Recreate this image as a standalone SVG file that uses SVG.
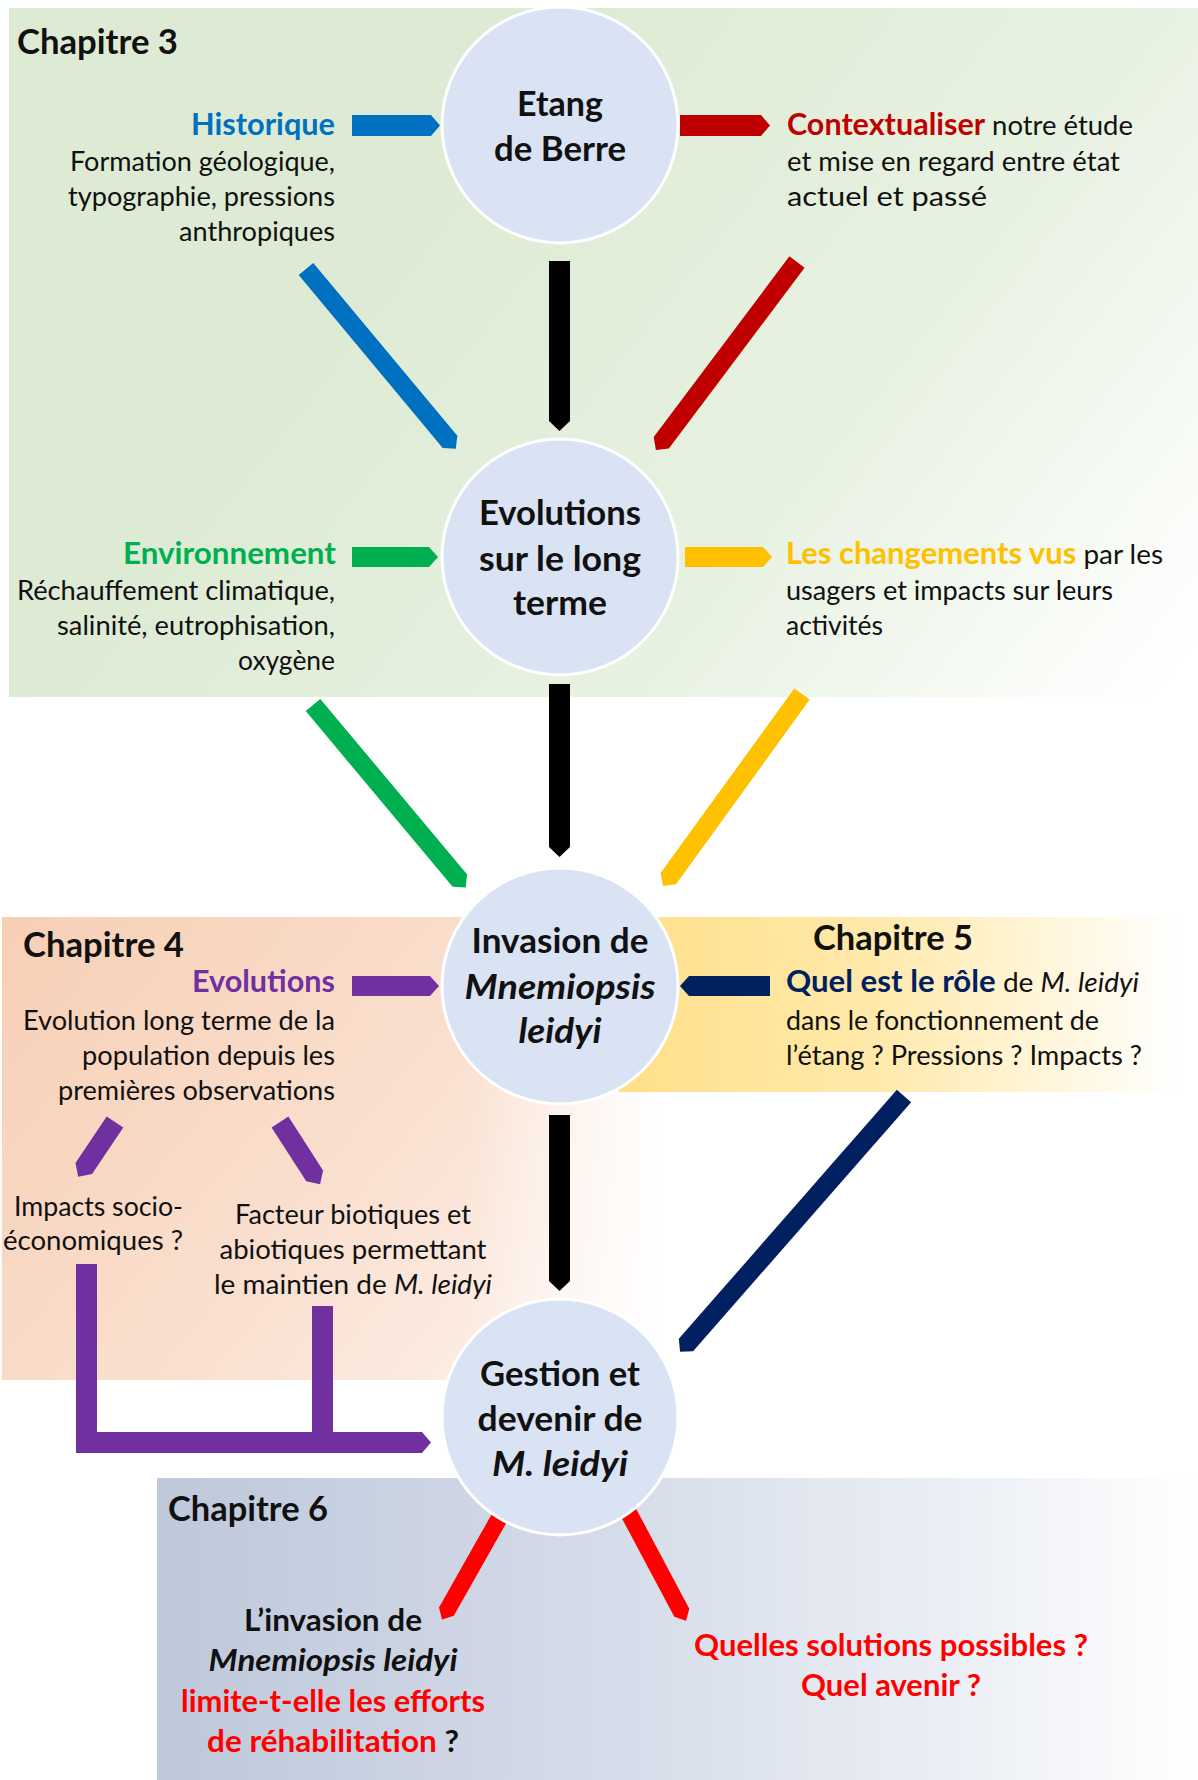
<svg xmlns="http://www.w3.org/2000/svg" width="1198" height="1780" viewBox="0 0 1198 1780">
<style>
text{font-family:Lato,"Open Sans","Liberation Sans",sans-serif;fill:#111;}
.r{font-size:27px;}
.b{font-size:30px;font-weight:700;}
.h{font-size:35px;font-weight:700;}
.c{font-size:34px;font-weight:700;text-anchor:middle;}
.s6{font-size:30px;font-weight:700;text-anchor:middle;}
.e{text-anchor:end;}
.m{text-anchor:middle;}
.i{font-style:italic;}
.node{fill:#DAE3F3;stroke:#FFFFFF;stroke-width:3;}
</style>
<defs>
<linearGradient id="gGreen" gradientUnits="userSpaceOnUse" x1="450" y1="150" x2="1150" y2="700">
<stop offset="0" stop-color="#DDEBD4"/><stop offset="0.55" stop-color="#E8F2E2"/><stop offset="1" stop-color="#FFFFFF"/>
</linearGradient>
<linearGradient id="gPeach" gradientUnits="userSpaceOnUse" x1="2" y1="917" x2="560" y2="1380">
<stop offset="0" stop-color="#F7CFB5"/><stop offset="0.6" stop-color="#FAE0D0"/><stop offset="1" stop-color="#FDF1EA"/>
</linearGradient>
<linearGradient id="gPeachFade" gradientUnits="userSpaceOnUse" x1="470" y1="0" x2="660" y2="0">
<stop offset="0" stop-color="#FFFFFF" stop-opacity="0"/><stop offset="1" stop-color="#FFFFFF" stop-opacity="1"/>
</linearGradient>
<linearGradient id="gYellow" gradientUnits="userSpaceOnUse" x1="619" y1="0" x2="1181" y2="0">
<stop offset="0" stop-color="#FFE08A"/><stop offset="0.45" stop-color="#FFE9AA"/><stop offset="1" stop-color="#FFFFFF"/>
</linearGradient>
<linearGradient id="gBlue" gradientUnits="userSpaceOnUse" x1="157" y1="0" x2="1198" y2="0">
<stop offset="0" stop-color="#BEC8DA"/><stop offset="0.45" stop-color="#D6DDEA"/><stop offset="0.8" stop-color="#EEF1F6"/><stop offset="1" stop-color="#FFFFFF"/>
</linearGradient>
</defs>
<rect width="1198" height="1780" fill="#FFFFFF"/>
<g id="backgrounds">
<rect x="9" y="8" width="1189" height="689" fill="url(#gGreen)"/>
<rect x="2" y="917" width="658" height="463" fill="url(#gPeach)"/>
<rect x="2" y="917" width="658" height="463" fill="url(#gPeachFade)"/>
<rect x="619" y="917" width="562" height="175" fill="url(#gYellow)"/>
<rect x="157" y="1478" width="1041" height="302" fill="url(#gBlue)"/>
</g>
<g id="connectors">
<path fill="#000" d="M549,261 H570 V421 L559.5,431 L549,421 Z"/>
<path fill="#000" d="M549,684 H570 V847 L559.5,857 L549,847 Z"/>
<path fill="#000" d="M549,1115 H570 V1281 L559.5,1291 L549,1281 Z"/>
<path fill="#0070C0" d="M352,115 H431 L440,125.5 L431,136 H352 Z"/>
<path fill="#C00000" d="M680,115 H761 L770,125.5 L761,136 H680 Z"/>
<path fill="#00B050" d="M352,547 H429 L438,557 L429,567 H352 Z"/>
<path fill="#FFC000" d="M685,547 H763 L772,557 L763,567 H685 Z"/>
<path fill="#7030A0" d="M352,976 H430 L439,986 L430,996 H352 Z"/>
<path fill="#002060" d="M770,976 H689 L680,986 L689,996 H770 Z"/>
<path fill="#0070C0" transform="translate(306,269) rotate(50.2)" d="M0,-9.5 H225 L234,0 L225,9.5 H0 Z"/>
<path fill="#C00000" transform="translate(797,262) rotate(126.9)" d="M0,-9.5 H226 L235,0 L226,9.5 H0 Z"/>
<path fill="#00B050" transform="translate(313,705) rotate(50.1)" d="M0,-9.5 H229 L238,0 L229,9.5 H0 Z"/>
<path fill="#FFC000" transform="translate(802,694) rotate(125.9)" d="M0,-9.5 H228 L237,0 L228,9.5 H0 Z"/>
<path fill="#002060" transform="translate(904,1096) rotate(131.2)" d="M0,-9.5 H331 L340,0 L331,9.5 H0 Z"/>
<path fill="#7030A0" transform="translate(115,1122) rotate(123.9)" d="M0,-10 H56 L66,0 L56,10 H0 Z"/>
<path fill="#7030A0" transform="translate(280,1122) rotate(57.2)" d="M0,-10 H64 L74,0 L64,10 H0 Z"/>
<path fill="#7030A0" d="M76,1264 H97 V1432 H422 L431,1442.5 L422,1453 H76 Z"/>
<rect fill="#7030A0" x="312" y="1306" width="21" height="127"/>
<path fill="#FF0000" transform="translate(505,1508) rotate(119.5)" d="M0,-8.5 H119 L128,0 L119,8.5 H0 Z"/>
<path fill="#FF0000" transform="translate(625,1506) rotate(62)" d="M0,-8.5 H121 L130,0 L121,8.5 H0 Z"/>
</g>
<g id="node-etang">
<circle class="node" cx="560" cy="125" r="118"/>
<text class="c" x="560" y="116" textLength="86" lengthAdjust="spacingAndGlyphs">Etang</text>
<text class="c" x="560" y="161" textLength="132" lengthAdjust="spacingAndGlyphs">de Berre</text>
</g>
<g id="node-evolutions">
<circle class="node" cx="560" cy="557" r="118"/>
<text class="c" x="560" y="525" textLength="162" lengthAdjust="spacingAndGlyphs">Evolutions</text>
<text class="c" x="560" y="571" textLength="162" lengthAdjust="spacingAndGlyphs">sur le long</text>
<text class="c" x="560" y="615" textLength="94" lengthAdjust="spacingAndGlyphs">terme</text>
</g>
<g id="node-invasion">
<circle class="node" cx="560" cy="986" r="118"/>
<text class="c" x="560" y="953" textLength="177" lengthAdjust="spacingAndGlyphs">Invasion de</text>
<text class="c i" x="560" y="999" textLength="191" lengthAdjust="spacingAndGlyphs">Mnemiopsis</text>
<text class="c i" x="560" y="1043" textLength="83" lengthAdjust="spacingAndGlyphs">leidyi</text>
</g>
<g id="node-gestion">
<circle class="node" cx="560" cy="1417" r="118"/>
<text class="c" x="560" y="1386" textLength="160" lengthAdjust="spacingAndGlyphs">Gestion et</text>
<text class="c" x="560" y="1431" textLength="165" lengthAdjust="spacingAndGlyphs">devenir de</text>
<text class="c i" x="560" y="1476" textLength="136" lengthAdjust="spacingAndGlyphs">M. leidyi</text>
</g>
<g id="chapitre3">
<text class="h" x="17" y="54" textLength="161" lengthAdjust="spacingAndGlyphs">Chapitre 3</text>
</g>
<g id="historique">
<text class="b e" x="335" y="135" style="fill:#0070C0" textLength="144" lengthAdjust="spacingAndGlyphs">Historique</text>
<text class="r e" x="335" y="171" textLength="265" lengthAdjust="spacingAndGlyphs">Formation géologique,</text>
<text class="r e" x="335" y="206" textLength="267" lengthAdjust="spacingAndGlyphs">typographie, pressions</text>
<text class="r e" x="335" y="241" textLength="156" lengthAdjust="spacingAndGlyphs">anthropiques</text>
</g>
<g id="contextualiser">
<text class="r" x="787" y="135" textLength="346" lengthAdjust="spacingAndGlyphs"><tspan style="font-size:30px;font-weight:700;fill:#C00000">Contextualiser</tspan> notre étude</text>
<text class="r" x="787" y="171" textLength="333" lengthAdjust="spacingAndGlyphs">et mise en regard entre état</text>
<text class="r" x="787" y="206" textLength="200" lengthAdjust="spacingAndGlyphs">actuel et passé</text>
</g>
<g id="environnement">
<text class="b e" x="336" y="564" style="fill:#00B050" textLength="213" lengthAdjust="spacingAndGlyphs">Environnement</text>
<text class="r e" x="335" y="600" textLength="318" lengthAdjust="spacingAndGlyphs">Réchauffement climatique,</text>
<text class="r e" x="335" y="635" textLength="278" lengthAdjust="spacingAndGlyphs">salinité, eutrophisation,</text>
<text class="r e" x="335" y="670" textLength="97" lengthAdjust="spacingAndGlyphs">oxygène</text>
</g>
<g id="changements">
<text class="r" x="786" y="564" textLength="377" lengthAdjust="spacingAndGlyphs"><tspan style="font-size:30px;font-weight:700;fill:#FFC000">Les changements vus</tspan> par les</text>
<text class="r" x="786" y="600" textLength="327" lengthAdjust="spacingAndGlyphs">usagers et impacts sur leurs</text>
<text class="r" x="786" y="635" textLength="97" lengthAdjust="spacingAndGlyphs">activités</text>
</g>
<g id="chapitre4">
<text class="h" x="23" y="957" textLength="161" lengthAdjust="spacingAndGlyphs">Chapitre 4</text>
</g>
<g id="evolutions-pop">
<text class="b e" x="335" y="992" style="fill:#7030A0" textLength="143" lengthAdjust="spacingAndGlyphs">Evolutions</text>
<text class="r e" x="335" y="1030" textLength="312" lengthAdjust="spacingAndGlyphs">Evolution long terme de la</text>
<text class="r e" x="335" y="1065" textLength="253" lengthAdjust="spacingAndGlyphs">population depuis les</text>
<text class="r e" x="335" y="1100" textLength="277" lengthAdjust="spacingAndGlyphs">premières observations</text>
</g>
<g id="impacts-socio">
<text class="r e" x="183" y="1216" textLength="169" lengthAdjust="spacingAndGlyphs">Impacts socio-</text>
<text class="r e" x="183" y="1250" textLength="180" lengthAdjust="spacingAndGlyphs">économiques ?</text>
</g>
<g id="facteurs">
<text class="r m" x="353" y="1224" textLength="236" lengthAdjust="spacingAndGlyphs">Facteur biotiques et</text>
<text class="r m" x="353" y="1259" textLength="267" lengthAdjust="spacingAndGlyphs">abiotiques permettant</text>
<text class="r m" x="353" y="1294" textLength="278" lengthAdjust="spacingAndGlyphs">le maintien de <tspan class="i">M. leidyi</tspan></text>
</g>
<g id="chapitre5">
<text class="h" x="813" y="950" textLength="160" lengthAdjust="spacingAndGlyphs">Chapitre 5</text>
</g>
<g id="role">
<text class="r" x="786" y="992" textLength="353" lengthAdjust="spacingAndGlyphs"><tspan style="font-size:30px;font-weight:700;fill:#002060">Quel est le rôle</tspan> de <tspan class="i">M. leidyi</tspan></text>
<text class="r" x="786" y="1030" textLength="313" lengthAdjust="spacingAndGlyphs">dans le fonctionnement de</text>
<text class="r" x="786" y="1065" textLength="356" lengthAdjust="spacingAndGlyphs">l’étang ? Pressions ? Impacts ?</text>
</g>
<g id="chapitre6">
<text class="h" x="168" y="1521" textLength="160" lengthAdjust="spacingAndGlyphs">Chapitre 6</text>
</g>
<g id="invasion-question">
<text class="s6" x="333" y="1631" textLength="178" lengthAdjust="spacingAndGlyphs">L’invasion de</text>
<text class="s6 i" x="333" y="1671" textLength="249" lengthAdjust="spacingAndGlyphs">Mnemiopsis leidyi</text>
<text class="s6" x="333" y="1712" style="fill:#FF0000" textLength="304" lengthAdjust="spacingAndGlyphs">limite-t-elle les efforts</text>
<text class="s6" x="333" y="1752" textLength="252" lengthAdjust="spacingAndGlyphs"><tspan style="fill:#FF0000">de réhabilitation</tspan> ?</text>
</g>
<g id="solutions">
<text class="s6" x="891" y="1656" style="fill:#FF0000" textLength="394" lengthAdjust="spacingAndGlyphs">Quelles solutions possibles ?</text>
<text class="s6" x="891" y="1696" style="fill:#FF0000" textLength="180" lengthAdjust="spacingAndGlyphs">Quel avenir ?</text>
</g>
</svg>
